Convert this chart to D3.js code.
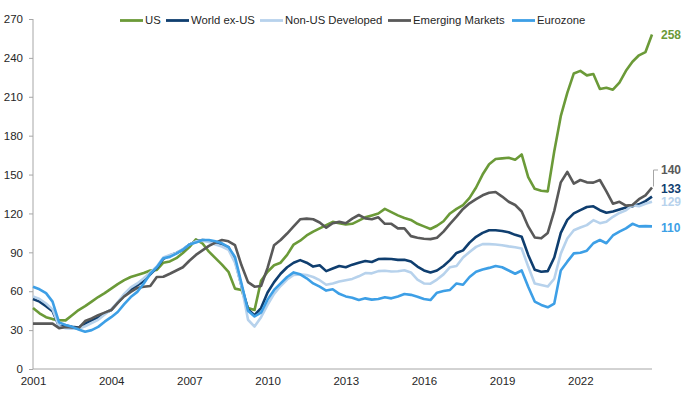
<!DOCTYPE html>
<html>
<head>
<meta charset="utf-8">
<script src="https://cdnjs.cloudflare.com/ajax/libs/d3/7.8.5/d3.min.js"></script>
<style>
  body { margin: 0; background: #fff; }
  svg { font-family: "Liberation Sans", Arial, sans-serif; }
</style>
</head>
<body>
<svg id="graph" width="700" height="394"></svg>
<script>
// quarterly index levels, 2001 Q1 .. 2024 Q4
var quarters = d3.range(96).map(function(i) { return 2001 + i / 4; });

var us = [47,43,40,38.5,37.7,37.5,41.5,45.5,48.5,52,
  55.5,58.5,62,65.5,68.5,71,72.5,74,76,76.5,
  82,83,85.5,89.5,94,100,97,90.5,85.5,80.5,
  75,62,61,47,45.5,68,75,80,82,88,
  96,99,103,106,108.5,111,113.5,112.5,111.5,112,
  114.5,117,118.5,120,123.5,121,118.5,116.5,115,112,
  110,108,110.5,114,120,123.5,126.5,132,140,150,
  158,162,162.5,163,161.5,165.5,148,139,137.5,137,
  168,195,213,228,230,226.5,227.5,216,217,215.5,
  221,230,237,242,244.5,258];

var worldExUs = [54,52,48.5,44.5,33,33.5,32.5,32,35,37.5,
  39.5,43,45.5,51,57,61.5,64.5,68,73,78,
  85,87.5,89.5,92,96,98.5,99.5,99,97.5,96,
  94,84,64,46,41.5,47,59,67,73.5,78.5,
  82,84,82,79,80,75.5,77.5,79.5,78.5,80.5,
  82,83.3,82.5,84.8,85,84.8,84.2,84.3,83,79,
  76,74.4,76,79.5,84,89.5,91.5,97.5,102,105,
  107,107,106.5,105.5,103.5,102,88,76.5,75,75.5,
  86,105,115,120,122.5,125,125.5,122.5,120.5,121.5,
  123,124.5,125.5,127,129.5,133];

var nonUsDev = [56,54,50.5,46,33,31.5,31,31,33,35.5,
  38,42,46,51.5,58,63,66,70,74.5,79,
  86,88,89.5,92.5,96,98.5,99,98,96,94.5,
  92,82,64,38,32.7,40,49.5,58,64,69,
  72.5,73,72.5,71,68.5,65,66,67.5,68.5,69.5,
  71.5,74,73.8,75.5,75.8,75.2,75.4,76.2,74.5,69,
  66,65.8,69,73,78.5,79.5,86,90.3,94.2,96.3,
  96.3,96,95.5,94.6,93.9,93,79,66,64.8,63.6,
  69.6,89,100.7,107,109.2,111,114.8,112.5,113.6,117.4,
  120.4,122.4,126.4,125.6,127.5,129];

var emerging = [35,35,35,35,31.5,32.5,32,31.5,37,39,
  41.5,43.5,45.5,51,56,59.5,62.5,63.5,64,71,
  71.2,73.5,76,78.5,83.5,88,91.5,95,97.5,99.5,
  98.5,95.5,80,67,63.5,64,78,95.5,99.5,104.5,
  110,115.5,116,115.5,113,109,112.4,113.5,112.4,116,
  118.8,116.2,115.5,117,112,112,108.5,108.5,102.5,101.3,
  100.5,100.2,101.3,106,112,117.5,123.5,127.8,131,134,
  136,136.5,133,129,126.5,121.5,110,101.5,100.8,105,
  122,144,152,143,145.8,144,143.8,145.8,137,127.5,
  129,126,126.5,131,134,140];

var eurozone = [63.5,61.5,58.5,52,36,34,32.5,30.5,28.8,30,
  32.5,36.5,40,44,50,55.5,59.5,66,73.5,78.5,
  85.5,86.5,89,92,96,97.5,99.5,99.5,98.5,97,
  94,86.5,66,45,40.5,43.5,53.5,61,66,71,
  74.5,73,70,66,63.5,60.5,61.5,58,56,55,
  53.2,54.5,53.5,54,55.3,54.5,56,57.8,57.2,55.8,
  54,53.2,58.9,60.1,61,66,65,71,75,76.8,
  78,79.5,78.5,76,73.5,76,63.5,52,49.4,47.6,
  50.5,76,82.8,89.2,89.7,91.3,97,99.5,97,103,
  106,108.5,112,110,110.2,110];

var seriesNames = ["US", "World ex-US", "Non-US Developed", "Emerging Markets", "Eurozone"];
var seriesValues = [us, worldExUs, nonUsDev, emerging, eurozone];
var seriesColors = ["#6b9a38", "#0f3e6f", "#b7d2ec", "#595959", "#3d9fe6"];

var yTicks = d3.range(0, 271, 30);
var xTicks = [2001, 2004, 2007, 2010, 2013, 2016, 2019, 2022];

// end labels: value, label y position
var endLabels = [
  {name: "US", y: 35},
  {name: "Emerging Markets", y: 170},
  {name: "World ex-US", y: 189},
  {name: "Non-US Developed", y: 202},
  {name: "Eurozone", y: 228}
];

var fig = d3.select("#graph");

var x = d3.scaleLinear().domain([2001, 2024.75]).range([33, 652]);
var y = d3.scaleLinear().domain([0, 270]).range([369, 19]);

// AXES

var yAxis = fig.append("g")
    .attr("transform", "translate(33,0)")
    .call(d3.axisLeft(y).tickValues(yTicks).tickSize(4).tickPadding(6));

var xAxis = fig.append("g")
    .attr("transform", "translate(0,369)")
    .call(d3.axisBottom(x).tickValues(xTicks).tickSize(0).tickPadding(8)
      .tickFormat(d3.format("d")));

fig.selectAll(".domain").attr("stroke", "#a6a6a6");
yAxis.selectAll(".tick line").attr("stroke", "#a6a6a6");
// no outer tick on the y axis
yAxis.select(".domain").attr("d", "M0,19V369");
xAxis.select(".domain").attr("d", "M33,0H652");

fig.selectAll(".tick text")
    .attr("font-size", 11.5)
    .attr("fill", "#262626")
    .attr("font-family", "Liberation Sans, Arial, sans-serif");

// LINES

var line = d3.line()
    .x(function(d, i) { return x(quarters[i]); })
    .y(function(d) { return y(d); });

fig.append("g").selectAll("path")
    .data(seriesValues)
    .enter().append("path")
    .attr("fill", "none")
    .attr("stroke", function(d, i) { return seriesColors[i]; })
    .attr("stroke-width", 2.6)
    .attr("stroke-linejoin", "round")
    .attr("d", line);

// leader line for the EM label
var emLast = emerging[emerging.length - 1];
var lastX = x(quarters[quarters.length - 1]);
fig.append("path")
    .attr("fill", "none")
    .attr("stroke", "#a6a6a6")
    .attr("stroke-width", 1)
    .attr("d", "M" + (lastX + 1.5) + "," + (y(emLast) - 1) + "V170H" + (lastX + 6));

// END LABELS

fig.append("g").selectAll("text")
    .data(endLabels)
    .enter().append("text")
    .attr("x", 661)
    .attr("y", function(d) { return d.y; })
    .attr("dy", "0.35em")
    .attr("font-size", 12)
    .attr("font-weight", "bold")
    .attr("fill", function(d) { return seriesColors[seriesNames.indexOf(d.name)]; })
    .text(function(d) {
      var vals = seriesValues[seriesNames.indexOf(d.name)];
      return Math.round(vals[vals.length - 1]);
    });

// LEGEND

var legendX = [120, 166, 260, 388, 512];
var legend = fig.append("g").selectAll("g")
    .data(seriesNames)
    .enter().append("g")
    .attr("transform", function(d, i) { return "translate(" + legendX[i] + ",20.5)"; });

legend.append("line")
    .attr("x1", 0)
    .attr("x2", 23)
    .attr("stroke", function(d, i) { return seriesColors[i]; })
    .attr("stroke-width", 2.8);

legend.append("text")
    .attr("x", 25)
    .attr("dy", "0.35em")
    .attr("font-size", 11.3)
    .attr("fill", "#262626")
    .text(function(d) { return d; });
</script>
</body>
</html>
